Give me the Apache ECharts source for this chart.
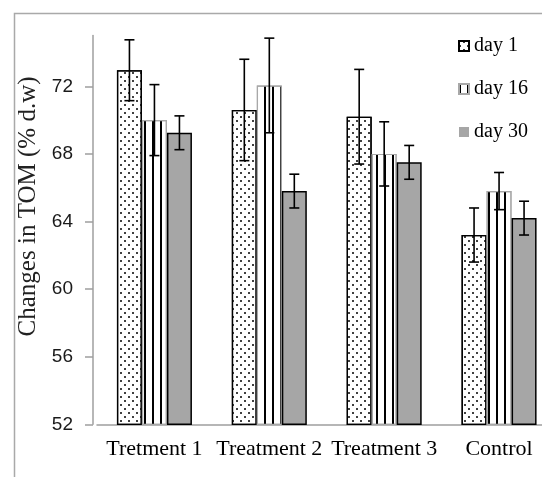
<!DOCTYPE html>
<html>
<head>
<meta charset="utf-8">
<script src="https://cdn.jsdelivr.net/npm/echarts@6/dist/echarts.min.js"></script>
<style>html,body{margin:0;padding:0;background:#fff}#c{width:542px;height:477px}</style>
</head>
<body>
<div id="c"></div>
<script>
const categories = ['Tretment 1', 'Treatment 2', 'Treatment 3', 'Control'];
const seriesNames = ['day 1', 'day 16', 'day 30'];
const day1 = [72.95, 70.6, 70.2, 63.2];
const day1Err = [1.8, 3.0, 2.8, 1.6];
const day16 = [70.0, 72.05, 68.0, 65.8];
const day16Err = [2.1, 2.8, 1.9, 1.1];
const day30 = [69.25, 65.8, 67.5, 64.2];
const day30Err = [1.0, 1.0, 1.0, 1.0];
const yTicks = [52, 56, 60, 64, 68, 72];

const BAR_W = 25;
const serif = '"Liberation Serif", "Times New Roman", serif';

const decals = [
  { symbol: 'circle', symbolSize: 1, color: '#000', dashArrayX: [[1.4, 5.4], [0, 3.4, 1.4, 2.0]], dashArrayY: [1.4, 1.9], rotation: 0 },
  { symbol: 'rect', symbolSize: 1, color: '#000', dashArrayX: [1.4, 5.1], dashArrayY: [10, 0], rotation: 0 },
  null
];
const styles = [
  { color: '#fff', borderColor: '#000', borderWidth: 1.3 },
  { color: '#fff', borderColor: '#a8a8a8', borderWidth: 1.2 },
  { color: '#a6a6a6', borderColor: '#000', borderWidth: 1.5 }
];
const vals = [day1, day16, day30];
const errs = [day1Err, day16Err, day30Err];

const series = [];
seriesNames.forEach((name, k) => {
  const st = Object.assign({}, styles[k]);
  if (decals[k]) st.decal = decals[k];
  series.push({
    name: name, type: 'bar', data: vals[k], barWidth: BAR_W, barGap: '0%',
    itemStyle: st, z: 2
  });
});
seriesNames.forEach((name, k) => {
  const offset = (k - 1) * BAR_W;
  series.push({
    name: name + ' err', type: 'custom', z: 5,
    data: vals[k].map((v, i) => [i, v - errs[k][i], v + errs[k][i]]),
    encode: { x: 0, y: [1, 2] },
    renderItem: function (params, api) {
      const lo = api.coord([api.value(0), api.value(1)]);
      const hi = api.coord([api.value(0), api.value(2)]);
      const x = lo[0] + offset;
      const cap = 5;
      const st = { stroke: '#000', lineWidth: 1.6 };
      return {
        type: 'group',
        children: [
          { type: 'line', shape: { x1: x, y1: lo[1], x2: x, y2: hi[1] }, style: st },
          { type: 'line', shape: { x1: x - cap, y1: lo[1], x2: x + cap, y2: lo[1] }, style: st },
          { type: 'line', shape: { x1: x - cap, y1: hi[1], x2: x + cap, y2: hi[1] }, style: st }
        ]
      };
    }
  });
});

const chart = echarts.init(document.getElementById('c'), null, { renderer: 'canvas' });
chart.setOption({
  animation: false,
  backgroundColor: '#fff',
  graphic: [{
    type: 'rect', left: 12, top: 11, shape: { width: 620, height: 600 },
    style: { fill: 'none', stroke: '#a9a9a9', lineWidth: 1.5 }, silent: true, z: -1
  }],
  grid: { left: 97, width: 459.5, top: 35.6, height: 388.7, containLabel: false, outerBoundsMode: 'none' },
  legend: {
    orient: 'vertical', left: 453, top: 31, itemGap: 23, itemWidth: 10, itemHeight: 10,
    icon: 'rect',
    data: [
      { name: 'day 1' },
      { name: 'day 16' },
      { name: 'day 30', itemStyle: { borderWidth: 0 } }
    ],
    textStyle: { fontFamily: serif, fontSize: 20, color: '#000', lineHeight: 20 }
  },
  xAxis: {
    type: 'category', data: categories,
    axisLine: { lineStyle: { color: '#9f9f9f', width: 1.5 } },
    axisTick: { show: false },
    axisLabel: { interval: 0, margin: 14, fontFamily: serif, fontSize: 22, color: '#000' }
  },
  yAxis: {
    type: 'value', min: 52, max: 75, interval: 4, offset: 4,
    name: 'Changes in TOM (% d.w)', nameLocation: 'middle', nameGap: 42,
    nameTextStyle: { fontFamily: serif, fontSize: 25, color: '#222', padding: [0, 0, 0, 47] },
    axisLine: { show: true, lineStyle: { color: '#9f9f9f', width: 1.5 } },
    axisTick: { show: true, length: 8, lineStyle: { color: '#9f9f9f', width: 1.5 }, customValues: yTicks },
    axisLabel: { margin: 20, fontFamily: '"Liberation Sans", Arial, sans-serif', fontSize: 19, color: '#1a1a1a', customValues: yTicks },
    splitLine: { show: false }
  },
  series: series
});
</script>
</body>
</html>
